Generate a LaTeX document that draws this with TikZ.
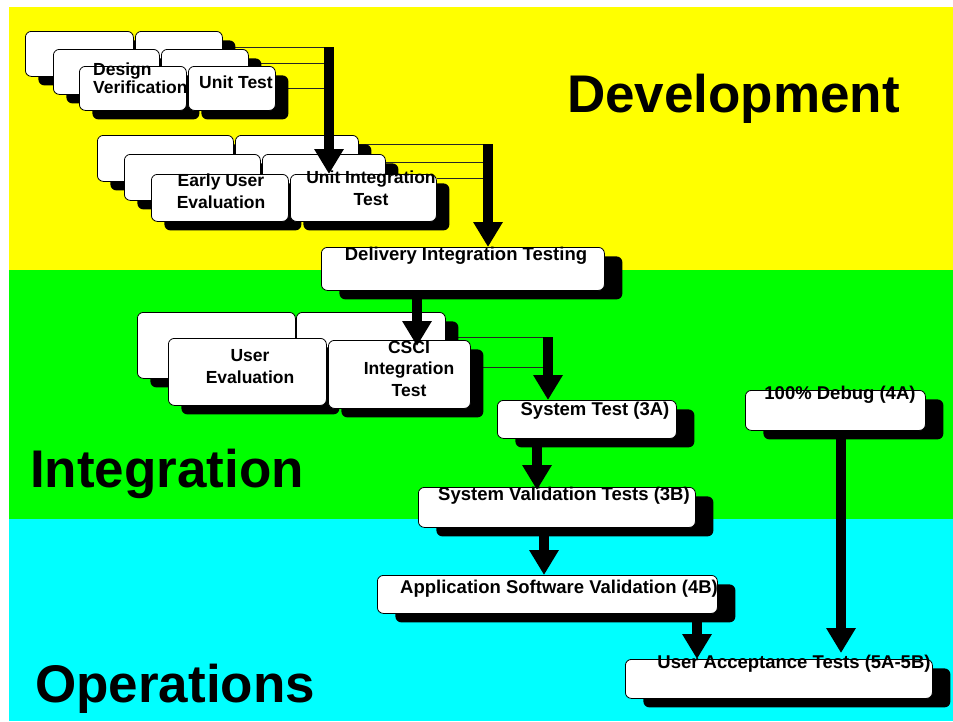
\documentclass[tikz,border=0pt]{standalone}
\usepackage{fontspec}
\setmainfont{Liberation Sans}
\usetikzlibrary{arrows.meta,shadows}
\definecolor{bandyellow}{RGB}{255,255,0}
\definecolor{bandgreen}{RGB}{0,255,0}
\definecolor{bandcyan}{RGB}{0,255,255}
\pgfdeclarelayer{bands}
\pgfdeclarelayer{links}
\pgfsetlayers{bands,links,main}
\tikzset{
  card/.style={draw=black, line width=0.8pt, fill=white, rounded corners=6pt,
    inner sep=0pt, anchor=north west,
    drop shadow={shadow xshift=13pt, shadow yshift=-9pt, fill=black, opacity=1}},
  proccard/.style={draw=black, line width=0.8pt, fill=white, rounded corners=6pt,
    inner sep=0pt, anchor=north west,
    drop shadow={shadow xshift=18pt, shadow yshift=-9pt, fill=black, opacity=1}},
  stacklbl/.style={font=\bfseries\fontsize{17.5}{21.5}\selectfont, align=center, anchor=base, inner sep=0pt},
  proclbl/.style={font=\bfseries\fontsize{18.5}{22}\selectfont, anchor=base, inner sep=0pt},
  bigtitle/.style={font=\bfseries\fontsize{53}{60}\selectfont, anchor=base west, inner sep=0pt},
  link/.style={draw=black!85, line width=0.9pt},
  flow/.style={draw=black, line width=9.5pt, -{Triangle[width=28pt,length=25pt]}},
}
\begin{document}
\begin{tikzpicture}[x=1pt,y=-1pt]
\useasboundingbox (0,0) rectangle (953,721);
\begin{pgfonlayer}{bands}
  \fill[white] (0,0) rectangle (953,721);
  \fill[bandyellow] (9,7) rectangle (953,270);
  \fill[bandgreen] (9,270) rectangle (953,519);
  \fill[bandcyan] (9,519) rectangle (953,721);
\end{pgfonlayer}

% ---------- top stack
\node[card, minimum width=108pt, minimum height=45pt] (dv1) at (25,31) {};
\node[card, minimum width=87pt, minimum height=45pt] (ut1) at (135,31) {};
\node[card, minimum width=106pt, minimum height=45pt] (dv2) at (53,49) {};
\node[card, minimum width=87pt, minimum height=45pt] (ut2) at (161,49) {};
\node[card, minimum width=107pt, minimum height=44pt] (dv3) at (79,66) {};
\node[card, minimum width=87pt, minimum height=44pt] (ut3) at (188,66) {};

% ---------- middle stack
\node[card, minimum width=136pt, minimum height=46pt] (ev1) at (97,135) {};
\node[card, minimum width=123pt, minimum height=46pt] (ui1) at (235,135) {};
\node[card, minimum width=136pt, minimum height=46pt] (ev2) at (124,154) {};
\node[card, minimum width=123pt, minimum height=46pt] (ui2) at (262,154) {};
\node[card, minimum width=137pt, minimum height=47pt] (ev3) at (151,174) {};
\node[card, minimum width=146pt, minimum height=47pt] (ui3) at (290,174) {};

% ---------- delivery
\node[proccard, minimum width=283pt, minimum height=43pt] (dit) at (321,247) {};

% ---------- bottom stack
\node[card, minimum width=158pt, minimum height=66pt] (ue1) at (137,312) {};
\node[card, minimum width=149pt, minimum height=66pt] (cs1) at (296,312) {};
\node[card, minimum width=158pt, minimum height=67pt] (ue2) at (168,338) {};
\node[card, minimum width=142pt, minimum height=68pt] (cs2) at (328,340) {};

% ---------- process boxes
\node[proccard, minimum width=179pt, minimum height=38pt] (st) at (497,400) {};
\node[proccard, minimum width=180pt, minimum height=40pt] (dbg) at (745,390) {};
\node[proccard, minimum width=277pt, minimum height=40pt] (sv) at (418,487) {};
\node[proccard, minimum width=340pt, minimum height=38pt] (asv) at (377,575) {};
\node[proccard, minimum width=307pt, minimum height=39pt] (uat) at (625,659) {};

% ---------- connector coordinates
\coordinate (a1) at (329,47);
\coordinate (a2) at (488,144);
\coordinate (a4) at (548,337);
\coordinate (a3x) at (417,300);
\coordinate (a5x) at (537,450);
\coordinate (a6x) at (544,540);
\coordinate (a7x) at (697,630);
\coordinate (t1) at (329,174);
\coordinate (t3) at (417,346);
\coordinate (t5) at (537,490);
\coordinate (t8) at (841,653);

\begin{pgfonlayer}{links}
  \draw[link] (ut1.east |- a1) -- (a1);
  \draw[link] (ut2.north east) ++(0,14) coordinate (l2) -- (l2 -| a1);
  \draw[link] (ut3.east) -- (ut3.east -| a1);
  \draw[link] (ui1.east |- a2) -- (a2);
  \draw[link] (ui2.north east) ++(0,8) coordinate (l5) -- (l5 -| a2);
  \draw[link] (ui3.north east) ++(0,4) coordinate (l6) -- (l6 -| a2);
  \draw[link] (cs1.east |- a4) -- (a4);
  \draw[link] (cs2.north east) ++(0,27) coordinate (l8) -- (l8 -| a4);
\end{pgfonlayer}

% ---------- labels (base anchor = baseline of the last line)
\node[stacklbl, align=left, anchor=base west] (dv3t) at (93,93) {Design\\[-3.5pt]Verification};
\node[stacklbl] (ut3t) at (236,88) {Unit Test};
\node[stacklbl] (ev3t) at (221,208) {Early User\\Evaluation};
\node[stacklbl] (ui3t) at (371,205) {Unit Integration\\Test};
\node[proclbl] (ditt) at (466,260) {Delivery Integration Testing};
\node[stacklbl] (ue2t) at (250,383) {User\\Evaluation};
\node[stacklbl] (cs2t) at (409,396) {CSCI\\Integration\\Test};
\node[proclbl] (stt) at (595,415) {System Test (3A)};
\node[proclbl] (dbgt) at (840,399) {100\% Debug (4A)};
\node[proclbl] (svt) at (564,500) {System Validation Tests (3B)};
\node[proclbl] (asvt) at (559,593) {Application Software Validation (4B)};
\node[proclbl] (uatt) at (794,668) {User Acceptance Tests (5A-5B)};

\node[bigtitle] (dev) at (567,112) {Development};
\node[bigtitle] (int) at (30,487) {Integration};
\node[bigtitle] (ops) at (35,702) {Operations};

% ---------- arrows
\draw[flow] (a1) -- (t1);
\draw[flow] (a2) -- (a2 |- dit.north);
\draw[flow] (dit.south -| a3x) -- (t3);
\draw[flow] (a4) -- (a4 |- st.north);
\draw[flow] (st.south -| a5x) -- (t5);
\draw[flow] (sv.south -| a6x) -- (asv.north -| a6x);
\draw[flow] (asv.south -| a7x) -- (uat.north -| a7x);
\draw[flow] (dbg.south -| t8) -- (t8);
\end{tikzpicture}
\end{document}
